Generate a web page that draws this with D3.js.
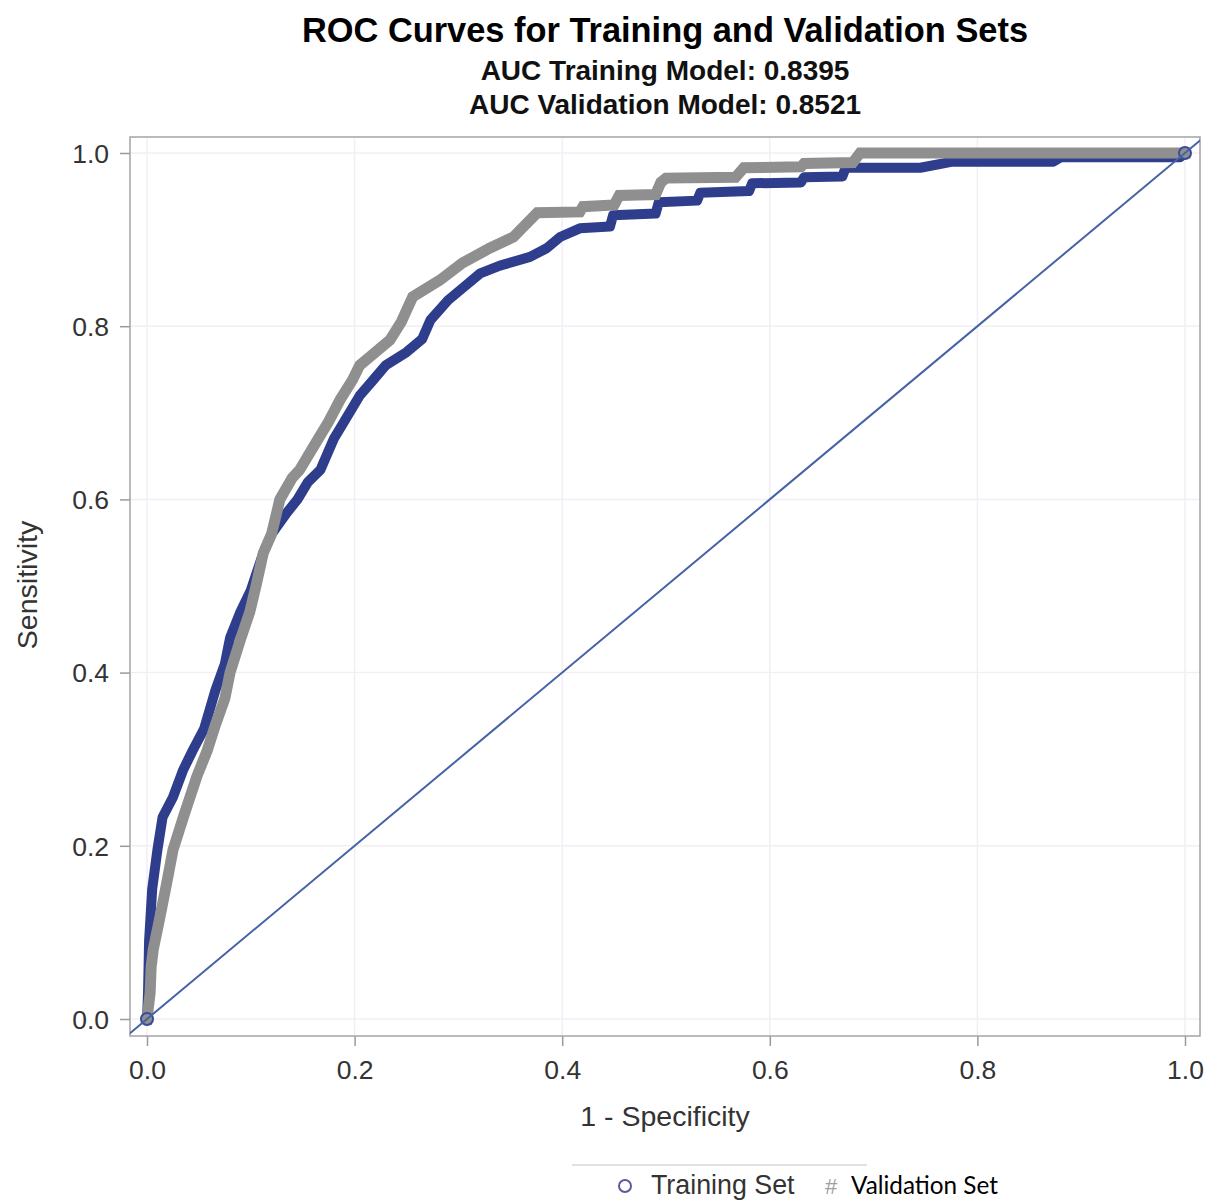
<!DOCTYPE html>
<html><head><meta charset="utf-8">
<script src="https://cdn.jsdelivr.net/npm/d3@7"></script>
<style>body{margin:0;background:#fff}</style>
</head><body>
<svg id="chart" width="1207" height="1201"></svg>
<script>
const titleText = "ROC Curves for Training and Validation Sets";
const subtitles = ["AUC Training Model: 0.8395", "AUC Validation Model: 0.8521"];
const tickValues = [0, 0.2, 0.4, 0.6, 0.8, 1.0];
const seriesNames = ["Training Set", "Validation Set"];
const trainingFPR = [0,0.001,0.002,0.005,0.01,0.015,0.025,0.035,0.044,0.055,0.066,0.075,0.08,0.09,0.1,0.112,0.12,0.135,0.145,0.155,0.167,0.18,0.19,0.205,0.218,0.23,0.25,0.265,0.273,0.29,0.305,0.321,0.34,0.369,0.385,0.398,0.417,0.446,0.449,0.49,0.493,0.53,0.533,0.58,0.583,0.63,0.633,0.67,0.673,0.745,0.776,0.873,0.88,0.995,1];
const trainingTPR = [0,0.03,0.09,0.15,0.195,0.233,0.256,0.288,0.31,0.335,0.38,0.41,0.44,0.47,0.495,0.538,0.56,0.585,0.60,0.62,0.634,0.67,0.69,0.72,0.738,0.755,0.77,0.785,0.807,0.83,0.845,0.861,0.87,0.88,0.89,0.903,0.913,0.915,0.928,0.93,0.943,0.945,0.954,0.956,0.965,0.966,0.972,0.973,0.983,0.983,0.99,0.99,0.995,0.995,1];
const validationFPR = [0,0.003,0.004,0.006,0.0125,0.019,0.025,0.035,0.048,0.058,0.066,0.075,0.08,0.09,0.099,0.105,0.112,0.12,0.128,0.14,0.147,0.16,0.175,0.186,0.198,0.205,0.22,0.234,0.245,0.256,0.282,0.304,0.33,0.353,0.376,0.417,0.42,0.45,0.455,0.49,0.495,0.5,0.567,0.575,0.63,0.633,0.68,0.687,1];
const validationTPR = [0,0.03,0.06,0.08,0.118,0.157,0.195,0.233,0.28,0.31,0.34,0.37,0.40,0.438,0.47,0.50,0.538,0.56,0.60,0.625,0.634,0.66,0.69,0.715,0.738,0.755,0.77,0.784,0.805,0.834,0.853,0.873,0.89,0.903,0.931,0.932,0.938,0.940,0.951,0.952,0.966,0.971,0.972,0.983,0.984,0.988,0.989,1.0,1];

const svg = d3.select("#chart");
const font = "'Liberation Sans', Arial, sans-serif";
const frame = {l:130, r:1200, t:137, b:1036};
const x = d3.scaleLinear().domain([0,1]).range([147,1185]);
const y = d3.scaleLinear().domain([0,1]).range([1019,153]);

// titles
svg.append("text").attr("x",665).attr("y",42).attr("text-anchor","middle")
  .attr("font-family",font).attr("font-weight","bold").attr("font-size",34.4).attr("fill","#000").text(titleText);
subtitles.forEach((s,i)=>svg.append("text").attr("x",665).attr("y",80+i*34).attr("text-anchor","middle")
  .attr("font-family",font).attr("font-weight","bold").attr("font-size",28).attr("fill","#111").text(s));

// clip
svg.append("clipPath").attr("id","clip").append("rect")
  .attr("x",frame.l).attr("y",frame.t).attr("width",frame.r-frame.l).attr("height",frame.b-frame.t);

// grid
const g = svg.append("g");
g.selectAll(".gx").data(tickValues).join("line").attr("x1",d=>x(d)).attr("x2",d=>x(d))
  .attr("y1",frame.t).attr("y2",frame.b).attr("stroke","#F3EEF6").attr("stroke-width",1.5);
g.selectAll(".gy").data(tickValues).join("line").attr("y1",d=>y(d)).attr("y2",d=>y(d))
  .attr("x1",frame.l).attr("x2",frame.r).attr("stroke","#F3EEF6").attr("stroke-width",1.5);

// axes
const xAxis = d3.axisBottom(x).tickValues(tickValues).tickFormat(d3.format(".1f")).tickSize(10).tickPadding(9);
const yAxis = d3.axisLeft(y).tickValues(tickValues).tickFormat(d3.format(".1f")).tickSize(10).tickPadding(11);
const xa = svg.append("g").attr("transform",`translate(0,${frame.b})`).call(xAxis);
const ya = svg.append("g").attr("transform",`translate(${frame.l},0)`).call(yAxis);
[xa,ya].forEach(a=>{
  a.select(".domain").remove();
  a.selectAll(".tick line").attr("stroke","#9a9a9a").attr("stroke-width",1.5);
  a.selectAll(".tick text").attr("font-family",font).attr("font-size",26.5).attr("fill","#333");
});
xa.selectAll(".tick text").attr("dy","0.9em");
ya.selectAll(".tick text").attr("dy","0.35em");

// frame
svg.append("rect").attr("x",frame.l).attr("y",frame.t).attr("width",frame.r-frame.l).attr("height",frame.b-frame.t)
  .attr("fill","none").attr("stroke","#a4a4a4").attr("stroke-width",1.5);

// axis titles
svg.append("text").attr("x",665).attr("y",1126).attr("text-anchor","middle")
  .attr("font-family",font).attr("font-size",28.5).attr("fill","#333").text("1 - Specificity");
svg.append("text").attr("transform","translate(37,585) rotate(-90)").attr("text-anchor","middle")
  .attr("font-family",font).attr("font-size",28.5).attr("fill","#333").text("Sensitivity");

// curves
const plot = svg.append("g").attr("clip-path","url(#clip)");
const line = d3.line().x(d=>x(d[0])).y(d=>y(d[1]));
const trainPts = trainingFPR.map((v,i)=>[v,trainingTPR[i]]);
const valPts = validationFPR.map((v,i)=>[v,validationTPR[i]]);
plot.append("path").datum(trainPts).attr("d",line).attr("fill","none")
  .attr("stroke","#2F3E8C").attr("stroke-width",10).attr("stroke-linejoin","round").attr("stroke-linecap","round");
plot.append("path").datum(valPts).attr("d",line).attr("fill","none")
  .attr("stroke","#8F8F8F").attr("stroke-width",11).attr("stroke-linejoin","miter").attr("stroke-linecap","square");
plot.selectAll(".tm").data([trainPts[0], trainPts[trainPts.length-1]]).join("circle")
  .attr("cx",d=>x(d[0])).attr("cy",d=>y(d[1])).attr("r",6)
  .attr("fill","#8F8F8F").attr("stroke","#3A4A9A").attr("stroke-width",2);
// diagonal
plot.append("path").datum([[-0.05,-0.05],[1.05,1.05]]).attr("d",line).attr("fill","none")
  .attr("stroke","#4662A6").attr("stroke-width",2);

// legend
svg.append("line").attr("x1",572).attr("x2",867).attr("y1",1165).attr("y2",1165).attr("stroke","#d8d4dc").attr("stroke-width",1.5);
svg.append("circle").attr("cx",625).attr("cy",1186).attr("r",6).attr("fill","none").attr("stroke","#5B5B9B").attr("stroke-width",2);
svg.append("text").attr("x",651).attr("y",1194).attr("font-family",font).attr("font-size",26.8).attr("fill","#333").text(seriesNames[0]);
svg.append("text").attr("x",831).attr("y",1194).attr("text-anchor","middle").attr("font-family",font).attr("font-size",22).attr("fill","#a0a0a0").text("#");
svg.append("text").attr("x",851).attr("y",1194).attr("font-family","Lato, 'Open Sans', sans-serif").attr("font-size",24.3).attr("fill","#000").text(seriesNames[1]);
</script>
</body></html>
